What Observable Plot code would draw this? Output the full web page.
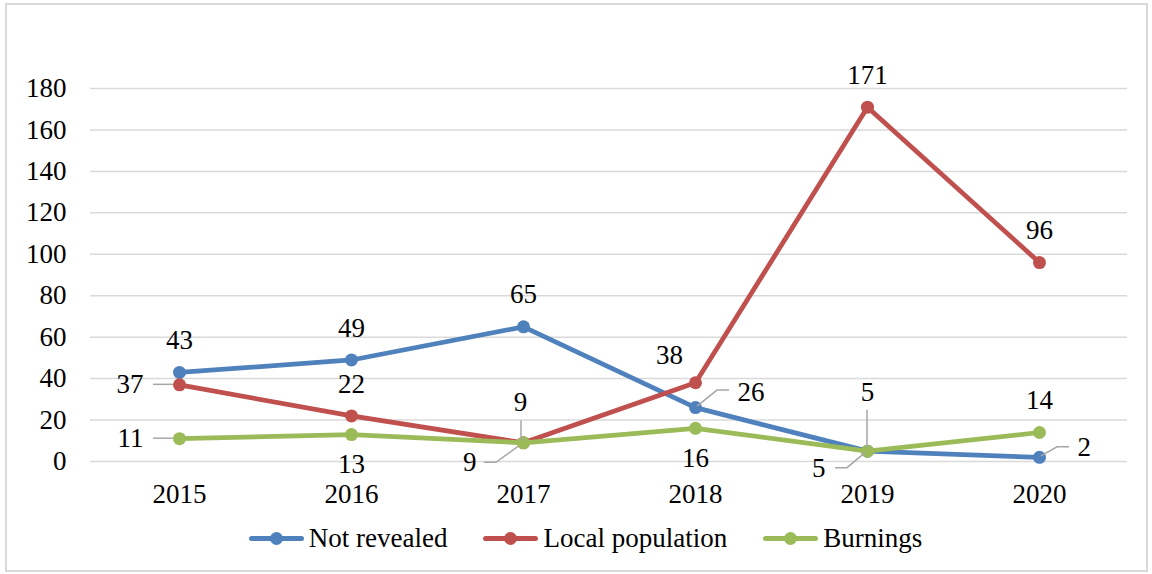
<!DOCTYPE html>
<html>
<head>
<meta charset="utf-8">
<script src="https://cdn.jsdelivr.net/npm/d3@7"></script>
<script src="https://cdn.jsdelivr.net/npm/@observablehq/plot@0.6"></script>
<style>
  html, body { margin: 0; padding: 0; background: #fff; }
  #frame {
    position: absolute; left: 5px; top: 3px; width: 1143px; height: 569px;
    box-sizing: border-box; border: 2px solid #d9d9d9; background: #fff;
    font-family: "Liberation Serif", "Times New Roman", serif;
  }
  #legend {
    display: flex; justify-content: center; align-items: center;
    height: 46px; font-size: 27px; color: #000; padding-left: 18px;
  }
  .item { display: flex; align-items: center; margin: 0 18px; }
  .sw { position: relative; width: 55px; height: 5px; margin-right: 5px; border-radius: 3px; }
  .sw::after { content: ""; position: absolute; left: 21px; top: -4px; width: 13px; height: 13px; border-radius: 50%; background: inherit; }
</style>
</head>
<body>
<div id="frame">
  <div id="chart"></div>
  <div id="legend"></div>
</div>
<script>
// ---- data ----
const years = ["2015", "2016", "2017", "2018", "2019", "2020"];
const seriesNames = ["Not revealed", "Local population", "Burnings"];
const notRevealed = [43, 49, 65, 26, 5, 2];
const localPopulation = [37, 22, 9, 38, 171, 96];
const burnings = [11, 13, 9, 16, 5, 14];
const yTicks = [0, 20, 40, 60, 80, 100, 120, 140, 160, 180];

// label placement keywords per series
const notRevealedLabelPos = ["above", "above", "above", "rightA", "lowerLeft5", "rightB"];
const localLabelPos = ["left", "above", "upper9", "aboveLeft", "above", "above"];
const burningsLabelPos = ["left", "below", "lowerLeft9", "below", "upper5", "above"];

// ---- styling ----
const colors = {"Not revealed": "#4F81BD", "Local population": "#C0504D", "Burnings": "#9BBB59"};
const placements = {
  above:      {dx: 0,   dy: -32, anchor: "middle"},
  below:      {dx: 0,   dy: 30,  anchor: "middle"},
  aboveLeft:  {dx: -26, dy: -27, anchor: "middle"},
  left:       {dx: -36, dy: 0,   anchor: "end",   leader: [[-26, 0], [-6, 0]]},
  rightA:     {dx: 42,  dy: -15, anchor: "start", leader: [[2, -1], [22, -17], [34, -17]]},
  rightB:     {dx: 38,  dy: -10, anchor: "start", leader: [[2, -1], [18, -10], [30, -10]]},
  upper9:     {dx: -3,  dy: -40, anchor: "middle", leader: [[-2, -22], [-2, -5], [0, -2]]},
  upper5:     {dx: 0,   dy: -59, anchor: "middle", leader: [[0, -41], [0, -3]]},
  lowerLeft9: {dx: -47, dy: 20,  anchor: "end",   leader: [[-39, 20], [-27, 20], [-5, 4]]},
  lowerLeft5: {dx: -42, dy: 17,  anchor: "end",   leader: [[-32, 17], [-20, 17], [-2, 2]]}
};

const valueSets = [notRevealed, localPopulation, burnings];
const posSets = [notRevealedLabelPos, localLabelPos, burningsLabelPos];
const table = seriesNames.flatMap((s, k) =>
  years.map((yr, i) => ({series: s, year: yr, value: valueSets[k][i], pos: posSets[k][i]})));

const fontSize = 27;

const marks = [
  Plot.ruleY(yTicks, {stroke: "#d9d9d9", strokeWidth: 1.5})
];
for (const s of seriesNames) {
  const d = table.filter(r => r.series === s);
  marks.push(Plot.line(d, {x: "year", y: "value", stroke: colors[s], strokeWidth: 4.75, strokeLinejoin: "round", strokeLinecap: "round"}));
  marks.push(Plot.dot(d, {x: "year", y: "value", fill: colors[s], r: 6.5, stroke: "none"}));
}
// leader lines, positioned by the plot's own scales
marks.push((index, scales) => {
  const g = d3.create("svg:g").attr("fill", "none").attr("stroke", "#a6a6a6").attr("stroke-width", 1.5);
  for (const r of table) {
    const p = placements[r.pos];
    if (!p.leader) continue;
    const px = scales.x(r.year), py = scales.y(r.value);
    g.append("path").attr("d", "M" + p.leader.map(([a, b]) => (px + a) + "," + (py + b)).join("L"));
  }
  return g.node();
});
for (const [key, p] of Object.entries(placements)) {
  const d = table.filter(r => r.pos === key);
  if (!d.length) continue;
  marks.push(Plot.text(d, {x: "year", y: "value", text: r => String(r.value), dx: p.dx, dy: p.dy,
    textAnchor: p.anchor, fill: "#000", fontSize, fontFamily: "Liberation Serif"}));
}

const chart = Plot.plot({
  width: 1139,
  height: 510,
  marginLeft: 83,
  marginRight: 19,
  marginTop: 83,
  marginBottom: 54,
  style: {fontFamily: "Liberation Serif", fontSize: "27px", color: "#000", background: "#fff", overflow: "visible"},
  x: {type: "point", domain: years, padding: 0.5, tickSize: 0, tickPadding: 22, label: null},
  y: {domain: [0, 180], ticks: yTicks, tickSize: 0, tickPadding: 24, label: null},
  marks
});
document.getElementById("chart").appendChild(chart);

const legend = document.getElementById("legend");
for (const s of seriesNames) {
  const item = document.createElement("div");
  item.className = "item";
  const sw = document.createElement("span");
  sw.className = "sw";
  sw.style.background = colors[s];
  const t = document.createElement("span");
  t.textContent = s;
  item.appendChild(sw); item.appendChild(t);
  legend.appendChild(item);
}
</script>
</body>
</html>
